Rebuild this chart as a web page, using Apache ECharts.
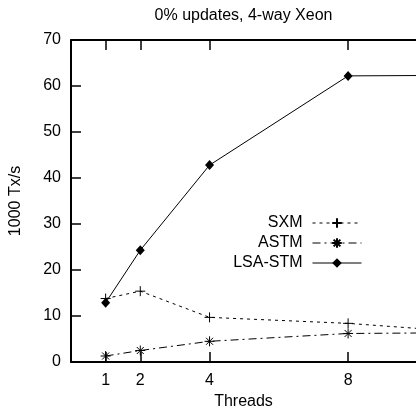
<!DOCTYPE html>
<html>
<head>
<meta charset="utf-8">
<script src="https://cdn.jsdelivr.net/npm/echarts@6/dist/echarts.min.js"></script>
<style>
  html, body { margin: 0; padding: 0; background: #fff; }
  #chart { width: 416px; height: 409px; }
</style>
</head>
<body>
<div id="chart"></div>
<script>
// Throughput (thousand transactions per second) by thread count
const threads = [1, 2, 4, 8, 16];
const sxm = [13.8, 15.4, 9.7, 8.4, 4.0];
const astm = [1.3, 2.5, 4.5, 6.2, 6.6];
const lsaStm = [12.9, 24.3, 42.8, 62.2, 62.5];
const threadTicks = [1, 2, 4, 8];
const seriesNames = ['SXM', 'ASTM', 'LSA-STM'];
const chartTitle = '0% updates, 4-way Xeon';

const font = { fontFamily: '"Liberation Sans", Arial, sans-serif', fontSize: 16, color: '#000', fontWeight: 'normal' };
const plusSymbol = 'path://M0,5L10,5M5,0L5,10';
const starSymbol = 'path://M0,5L10,5M5,0L5,10M1.5,1.5L8.5,8.5M8.5,1.5L1.5,8.5';

function pairs(vals) { return threads.map((t, i) => [t, vals[i]]); }

const axisLine = { show: true, onZero: false, lineStyle: { color: '#000', width: 2 } };
const tick = { show: true, inside: true, length: 10, customValues: threadTicks, lineStyle: { color: '#000', width: 1.5 } };

const chart = echarts.init(document.getElementById('chart'), null, { renderer: 'canvas' });
chart.setOption({
  animation: false,
  title: {
    text: chartTitle, left: 243.5, top: 8, textAlign: 'center', padding: 0,
    textStyle: font
  },
  grid: { left: 71, right: 0, top: 40, bottom: 47, outerBoundsMode: 'none', containLabel: false },
  xAxis: [
    {
      type: 'value', min: 0, max: 9.96, position: 'bottom',
      name: 'Threads', nameLocation: 'middle', nameGap: 32, nameTextStyle: font,
      axisLine: axisLine, axisTick: tick,
      axisLabel: Object.assign({ customValues: threadTicks, margin: 11 }, font),
      splitLine: { show: false }
    },
    {
      type: 'value', min: 0, max: 9.96, position: 'top',
      axisLine: axisLine, axisTick: tick,
      axisLabel: { show: false }, splitLine: { show: false }
    }
  ],
  yAxis: {
    type: 'value', min: 0, max: 70, interval: 10,
    name: '1000 Tx/s', nameLocation: 'middle', nameGap: 47, nameRotate: 90, nameTextStyle: font,
    axisLine: axisLine,
    axisTick: { show: true, inside: true, length: 10, lineStyle: { color: '#000', width: 1.5 } },
    axisLabel: Object.assign({ margin: 10 }, font),
    splitLine: { show: false }
  },
  legend: {
    data: seriesNames, orient: 'vertical', align: 'right', selectedMode: false,
    right: 54, top: 215, padding: 0, itemWidth: 49, itemHeight: 12, itemGap: 4,
    lineStyle: { width: 1 },
    textStyle: Object.assign({ padding: [0, 5, 0, 0] }, font)
  },
  series: [
    {
      name: seriesNames[0], type: 'line', data: pairs(sxm),
      symbol: plusSymbol, symbolSize: 10,
      lineStyle: { color: '#000', width: 1, type: [3, 4] },
      itemStyle: { color: '#000', borderColor: '#000', borderWidth: 1 }
    },
    {
      name: seriesNames[1], type: 'line', data: pairs(astm),
      symbol: starSymbol, symbolSize: 10,
      lineStyle: { color: '#000', width: 1, type: [8, 4, 2, 4] },
      itemStyle: { color: '#000', borderColor: '#000', borderWidth: 1 }
    },
    {
      name: seriesNames[2], type: 'line', data: pairs(lsaStm),
      symbol: 'diamond', symbolSize: [9, 10],
      lineStyle: { color: '#000', width: 1 },
      itemStyle: { color: '#000', borderWidth: 0 }
    }
  ]
});
</script>
</body>
</html>
